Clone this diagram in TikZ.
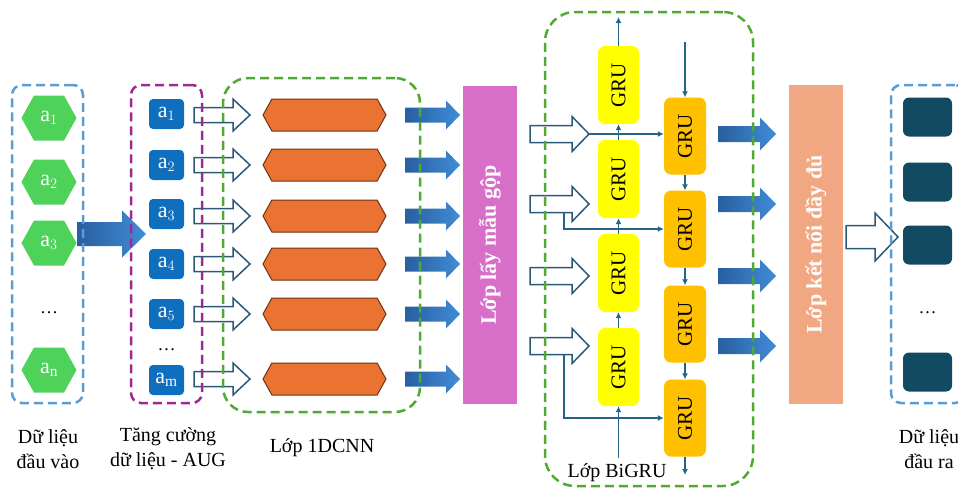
\documentclass[tikz,border=0pt]{standalone}
\usepackage{fontspec}
\setmainfont{Liberation Serif}
\usetikzlibrary{shapes,arrows,arrows.meta,positioning,calc}
\definecolor{inblue}{RGB}{91,155,213}
\definecolor{hexgreen}{RGB}{78,210,90}
\definecolor{augpurple}{RGB}{160,40,150}
\definecolor{sqblue}{RGB}{16,110,190}
\definecolor{dashgreen}{RGB}{80,170,50}
\definecolor{cnnorange}{RGB}{235,115,50}
\definecolor{cnnedge}{RGB}{110,50,20}
\definecolor{arrdark}{RGB}{40,95,160}
\definecolor{arrlight}{RGB}{65,140,215}
\definecolor{hollowedge}{RGB}{40,90,120}
\definecolor{poolpink}{RGB}{215,110,200}
\definecolor{gruyellow}{RGB}{255,255,0}
\definecolor{gruorange}{RGB}{255,192,0}
\definecolor{linec}{RGB}{35,100,135}
\definecolor{fcsalmon}{RGB}{241,168,130}
\definecolor{outteal}{RGB}{18,74,98}

% block arrow: [style]{tail}{tip}{head length}{shaft half}{head half}
\newcommand{\barrow}[6][hollow]{%
  \draw[#1] let \p1=#2, \p2=#3 in
    ({\x1},{\y1-#5pt}) -- ({\x2-#4pt},{\y1-#5pt}) -- ({\x2-#4pt},{\y1-#6pt}) --
    ({\x2},{\y1}) -- ({\x2-#4pt},{\y1+#6pt}) -- ({\x2-#4pt},{\y1+#5pt}) --
    ({\x1},{\y1+#5pt}) -- cycle;}

\begin{document}
\begin{tikzpicture}[x=1pt, y=-1pt,
    dashbox/.style={draw, line width=2.5pt, dash pattern=on 9pt off 5pt, rounded corners=#1, inner sep=0pt},
    dashbox/.default=10pt,
    lbl/.style={align=center, font=\fontsize{20}{25}\selectfont},
    hexg/.style={shape=signal, signal to=east and west, signal pointer angle=122, fill=hexgreen, text=white,
      minimum width=55pt, minimum height=45pt, inner sep=0pt, font=\fontsize{22}{22}\selectfont},
    augsq/.style={fill=sqblue, rounded corners=4pt, text=white, minimum width=35pt, minimum height=30pt,
      inner sep=0pt, font=\fontsize{22}{22}\selectfont},
    cnnhex/.style={shape=signal, signal to=east and west, signal pointer angle=122, fill=cnnorange,
      draw=cnnedge, line width=1pt, minimum width=123pt, minimum height=32pt, inner sep=0pt},
    hollow/.style={draw=hollowedge, fill=white, line width=1.5pt, line join=miter},
    grad/.style={left color=arrdark, right color=arrlight, draw=none},
    gruy/.style={fill=gruyellow, rounded corners=7pt, minimum width=41pt, minimum height=78pt, inner sep=0pt,
      font=\fontsize{21}{21}\selectfont},
    gruo/.style={gruy, fill=gruorange, minimum width=42pt, minimum height=77pt},
    gline/.style={draw=linec, line width=1.2pt, -{Latex[length=6pt,width=6pt]}},
    bar/.style={inner sep=0pt, minimum width=54pt, text=white, font=\bfseries\fontsize{22}{22}\selectfont},
    outsq/.style={fill=outteal, rounded corners=6pt, minimum width=49pt, minimum height=39pt, inner sep=0pt}
  ]
  \useasboundingbox (0,0) rectangle (958,488);

  % Input data
  \foreach \v/\i [count=\k] in {118/1,182/2,243/3,370/\mathrm{n}}
    \node[hexg] (in\k) at (49,\v) {a$_{\i}$};
  \node (indots) at (49,313) {\fontsize{18}{18}\selectfont …};
  \node[lbl] (inlbl) at (48,449) {Dữ liệu\\đầu vào};

  \barrow[grad]{(77,234)}{(146,234)}{24}{12}{23.5}

  % Augmentation
  \foreach \v/\i [count=\k] in {114/1,165/2,214/3,264/4,314/5,380/\mathrm{m}}
    \node[augsq] (aug\k) at (166.5,\v) {a$_{\i}$};
  \node (augdots) at (166.5,350) {\fontsize{18}{18}\selectfont …};
  \node[lbl] (auglbl) at (168,449) {Tăng cường\\dữ liệu - AUG};

  % 1DCNN
  \foreach \v [count=\k] in {115,165,216,264,314,379} {
    \barrow[hollow]{(194,\v)}{(250,\v)}{17}{7.5}{16}
    \node[cnnhex] (cnn\k) at (324.5,\v) {};
    \barrow[grad]{(405,\v)}{(460,\v)}{14}{7.5}{14.5}
  }
  \node[lbl] (cnnlbl) at (322,448) {Lớp 1DCNN};

  % Pooling
  \node[bar, fill=poolpink, minimum height=318pt] (pool) at (490,245) {\rotatebox{90}{Lớp lấy mẫu gộp}};

  % BiGRU
  \foreach \v [count=\k] in {85,179,273,367}
    \node[gruy] (y\k) at (618.5,\v) {\rotatebox{90}{GRU}};
  \foreach \v [count=\k] in {136,229,324,418}
    \node[gruo] (o\k) at (685,\v) {\rotatebox{90}{GRU}};
  \foreach \v in {134,204,276,346} {
    \barrow[hollow]{(530,\v)}{(589,\v)}{17}{8.5}{17.5}
    \barrow[grad]{(718,\v)}{(776,\v)}{16}{8}{16.5}
  }
  \coordinate (ybot) at (618.5,458);
  \coordinate (ytop) at (618.5,17);
  \coordinate (otop) at (685,42);
  \coordinate (obot) at (685,475);
  \coordinate (t1) at (589,134);
  \coordinate (b2) at (564,212.5);
  \coordinate (b4) at (564,354.5);
  \draw[gline] (ybot) -- (y4);
  \draw[gline] (y4) -- (y3);
  \draw[gline] (y3) -- (y2);
  \draw[gline] (y2) -- (y1);
  \draw[gline] (y1) -- (ytop);
  \draw[gline] (otop) -- (o1);
  \draw[gline] (o1) -- (o2);
  \draw[gline] (o2) -- (o3);
  \draw[gline] (o3) -- (o4);
  \draw[gline] (o4) -- (obot);
  \draw[gline] (t1) -- (t1 -| o1.west);
  \draw[gline] (b2) |- (o2.west);
  \draw[gline] (b4) |- (o4.west);
  \node[lbl, fill=white, inner sep=1pt] (grulbl) at (617,473) {Lớp BiGRU};

  % Fully connected
  \node[bar, fill=fcsalmon, minimum height=319pt] (fc) at (816,244.5) {\rotatebox{90}{Lớp kết nối đầy đủ}};
  \barrow[hollow]{(846,237)}{(898,237)}{23}{11.5}{24}

  % Output
  \foreach \v [count=\k] in {117,182,245,372}
    \node[outsq] (out\k) at (927.5,\v) {};
  \node (outdots) at (927.5,313) {\fontsize{18}{18}\selectfont …};
  \node[lbl] (outlbl) at (929,449) {Dữ liệu\\đầu ra};

  % Dashed groups
  \node[dashbox, draw=inblue, minimum width=71pt, minimum height=318pt] (inbox) at (47.5,244) {};
  \node[dashbox, draw=augpurple, minimum width=71pt, minimum height=318pt] (augbox) at (166.5,244) {};
  \node[dashbox=25pt, draw=dashgreen, minimum width=197pt, minimum height=334pt] (cnnbox) at (321.5,245) {};
  \node[dashbox=30pt, draw=dashgreen, minimum width=208pt, minimum height=474pt] (grubox) at (649,249) {};
  \node[dashbox, draw=inblue, minimum width=74pt, minimum height=318pt] (outbox) at (928,244) {};
\end{tikzpicture}
\end{document}
